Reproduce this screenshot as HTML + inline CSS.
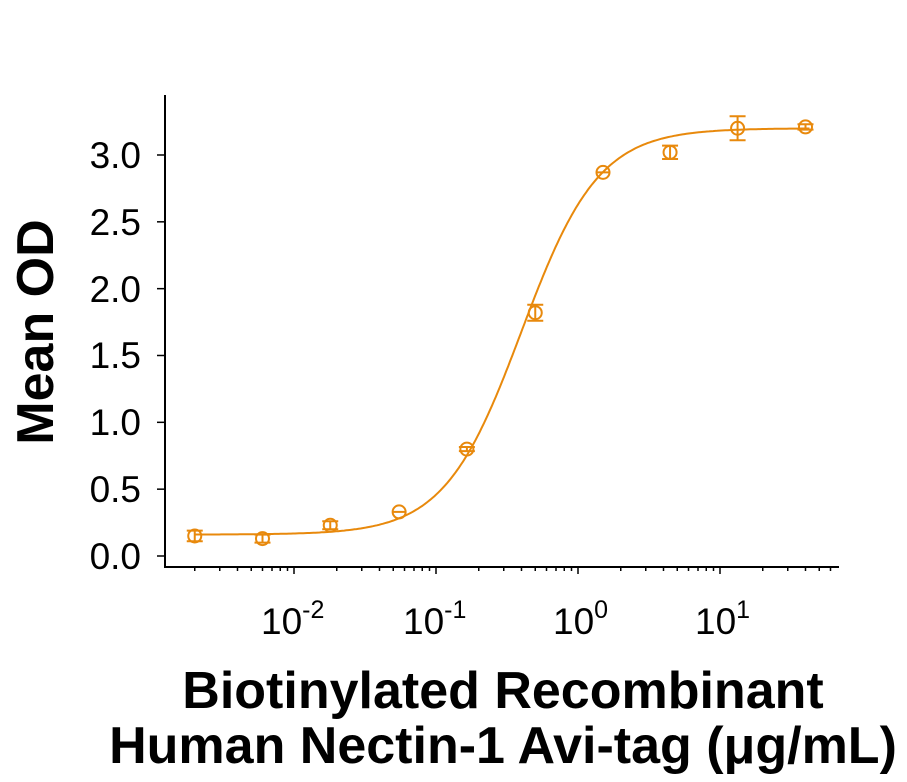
<!DOCTYPE html>
<html><head><meta charset="utf-8"><style>
body{margin:0;background:#fff;}
svg{display:block;font-family:"Liberation Sans",Arial,sans-serif;}
</style></head><body>
<svg id="s" width="907" height="782" viewBox="0 0 907 782" xmlns="http://www.w3.org/2000/svg">
<g stroke="#000" stroke-width="2" fill="none">
<line x1="165" y1="95" x2="165" y2="568"/>
<line x1="164" y1="567" x2="839" y2="567"/>
</g>
<g id="ticks" stroke="#000" stroke-width="1.5"></g>
<g font-size="37" text-anchor="end" fill="#000">
<text x="141" y="569">0.0</text>
<text x="141" y="502">0.5</text>
<text x="141" y="435">1.0</text>
<text x="141" y="368">1.5</text>
<text x="141" y="302">2.0</text>
<text x="141" y="235">2.5</text>
<text x="141" y="168">3.0</text>
</g>
<g font-size="37" fill="#000">
<text x="261" y="634">10<tspan font-size="25" dy="-16">-2</tspan></text>
<text x="403" y="634">10<tspan font-size="25" dy="-16">-1</tspan></text>
<text x="553" y="634">10<tspan font-size="25" dy="-16">0</tspan></text>
<text x="695" y="634">10<tspan font-size="25" dy="-16">1</tspan></text>
</g>
<text transform="translate(53,332) rotate(-90)" font-size="52" font-weight="bold" text-anchor="middle">Mean OD</text>
<text x="503" y="708" font-size="52" font-weight="bold" text-anchor="middle">Biotinylated Recombinant</text>
<text x="503" y="763" font-size="52" font-weight="bold" text-anchor="middle">Human Nectin-1 Avi-tag (μg/mL)</text>
<g id="data" stroke="#E8890C" stroke-width="2" fill="none"></g>
</svg>
<script>
var NS="http://www.w3.org/2000/svg";
function X(v){return 578+142*Math.log10(v);}
function Y(v){return 556-133.67*v;}
function el(p,t,a){var e=document.createElementNS(NS,t);for(var k in a)e.setAttribute(k,a[k]);p.appendChild(e);return e;}
var tk=document.getElementById("ticks");
[0,0.5,1,1.5,2,2.5,3].forEach(function(v){el(tk,"line",{x1:157,x2:165,y1:Y(v),y2:Y(v)});});
for(var d=-3;d<=1;d++)for(var m=1;m<10;m++){var v=m*Math.pow(10,d);var x=X(v);if(x<190||x>838)continue;el(tk,"line",{x1:x,x2:x,y1:567,y2:m==1?574:571});}
var g=document.getElementById("data");
var B=0.16,T=3.2,C=0.4,H=1.6;
function f(x){return B+(T-B)/(1+Math.pow(C/x,H));}
var p="";for(var i=0;i<=300;i++){var lx=-2.7+i*(1.63+2.7)/300;var x=Math.pow(10,lx);p+=(i?"L":"M")+X(x).toFixed(1)+" "+Y(f(x)).toFixed(1);}
el(g,"path",{d:p});
var pts=[[0.002,0.15,0.04],[0.006,0.13,0.03],[0.018,0.23,0.03],[0.055,0.33,0.01],[0.165,0.80,0.015],[0.5,1.82,0.06],[1.5,2.87,0.01],[4.45,3.02,0.05],[13.3,3.20,0.09],[40,3.21,0.02]];
pts.forEach(function(q){var x=X(q[0]),y=Y(q[1]),e=q[2]*133.67;
el(g,"circle",{cx:x,cy:y,r:6.5});
if(e>2){el(g,"line",{x1:x,x2:x,y1:y-e,y2:y+e});el(g,"line",{x1:x-8,x2:x+8,y1:y-e,y2:y-e});el(g,"line",{x1:x-8,x2:x+8,y1:y+e,y2:y+e});}
else{el(g,"line",{x1:x-7,x2:x+7,y1:y,y2:y});}
});
</script>
</body></html>
